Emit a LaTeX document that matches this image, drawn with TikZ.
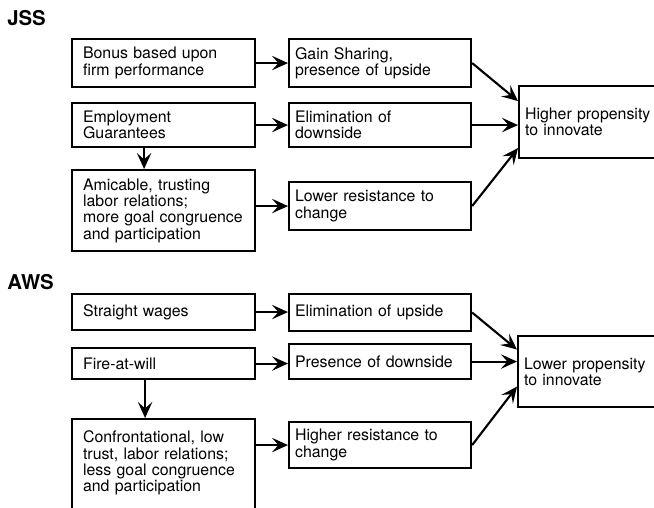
\documentclass[tikz,border=0pt]{standalone}
\usepackage{fontspec}
\setmainfont{TeX Gyre Heros}
\usepackage{tikz}
\usetikzlibrary{arrows.meta,calc}
\tikzset{
  leftbox/.style={draw,line width=1.5pt,anchor=north west,
                  text width=4.025cm,inner xsep=0.275cm,inner ysep=2pt,
                  align=left,font=\fontsize{11.3}{11.6}\selectfont},
  midbox/.style={draw,line width=1.5pt,anchor=north west,
                 text width=4.25cm,inner xsep=0.15cm,inner ysep=2pt,
                 align=left,font=\fontsize{11.3}{11.6}\selectfont},
  endbox/.style={draw,line width=1.5pt,anchor=north west,
                 text width=4cm,inner xsep=0.15cm,inner ysep=2pt,
                 align=left,font=\fontsize{11.3}{11.6}\selectfont},
  grouplabel/.style={anchor=west,inner sep=0pt,
                     font=\fontsize{14.5}{16}\selectfont\bfseries},
  flowarr/.style={-{Stealth[length=4mm,width=3.6mm,inset=1.6mm]},line width=1.5pt}
}

\begin{document}
\begin{tikzpicture}[x=0.025cm,y=0.025cm]
  \useasboundingbox (0,0) rectangle (654,508);
  \clip (0,0) rectangle (654,508);

  % JSS
  \node[grouplabel] (jss) at (7,490) {JSS};
  \node[leftbox,minimum height=1.2cm] (bonus) at (71,470)
    {Bonus based upon\\firm performance};
  \node[leftbox,minimum height=1.1cm] (employ) at (71,406)
    {Employment\\Guarantees};
  \node[leftbox,minimum height=2.025cm] (amic) at (71,339)
    {Amicable, trusting\\labor relations;\\more goal congruence\\and participation};
  \node[midbox,minimum height=1.2cm] (gain) at (288,470)
    {Gain Sharing,\\presence of upside};
  \node[midbox,minimum height=1.1cm] (elimd) at (288,406)
    {Elimination of\\downside};
  \node[midbox,minimum height=1.2cm] (lowres) at (288,327)
    {Lower resistance to\\change};
  \node[endbox,minimum height=1.8cm] (higher) at (518,423)
    {Higher propensity\\to innovate};

  \draw[flowarr] (bonus.east) -- (gain.west);
  \draw[flowarr] (employ.east) -- (elimd.west);
  \draw[flowarr] (amic.east |- lowres.west) -- (lowres.west);
  \draw[flowarr] ($(employ.south)+(-19.5,0)$) -- ($(amic.north)+(-19.5,0)$);
  \draw[flowarr] (gain.east) -- ($(higher.west)+(0,21)$);
  \draw[flowarr] (elimd.east) -- (elimd.east -| higher.west);
  \draw[flowarr] (lowres.east) -- ($(higher.west)+(0,-26)$);

  % AWS
  \node[grouplabel] (aws) at (7,226) {AWS};
  \node[leftbox,minimum height=0.9cm] (wages) at (71,215)
    {Straight wages};
  \node[leftbox,minimum height=0.775cm] (fire) at (71,161)
    {Fire-at-will};
  \node[leftbox,text depth=2.6cm,inner ysep=0.3cm] (confront) at (71,90)
    {Confrontational, low\\trust, labor relations;\\less goal congruence\\and participation};
  \node[midbox,minimum height=0.925cm] (elimu) at (288,215)
    {Elimination of upside};
  \node[midbox,minimum height=0.875cm] (presd) at (288,165)
    {Presence of downside};
  \node[midbox,minimum height=1.15cm] (highres) at (288,87)
    {Higher resistance to\\change};
  \node[endbox,minimum height=1.775cm] (lower) at (517,173)
    {Lower propensity\\to innovate};

  \draw[flowarr] (wages.east) -- (wages.east -| elimu.west);
  \draw[flowarr] (fire.east) -- (fire.east -| presd.west);
  \draw[flowarr] (confront.east |- highres.west) -- (highres.west);
  \draw[flowarr] ($(fire.south)+(-18.5,0)$) -- ($(confront.north)+(-18.5,0)$);
  \draw[flowarr] (elimu.east) -- ($(lower.west)+(0,22)$);
  \draw[flowarr] (presd.east) -- (presd.east -| lower.west);
  \draw[flowarr] (highres.east) -- ($(lower.west)+(0,-15)$);
\end{tikzpicture}
\end{document}
